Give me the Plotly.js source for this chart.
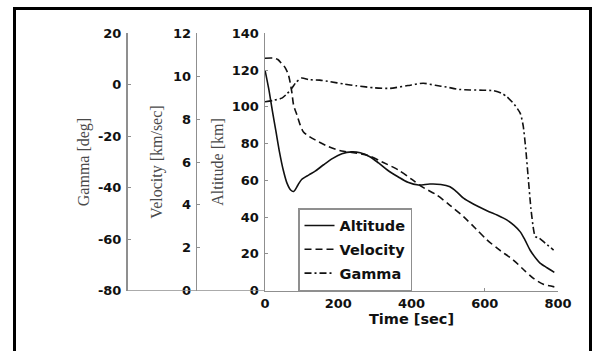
<!DOCTYPE html>
<html>
<head>
<meta charset="utf-8">
<script src="https://cdn.plot.ly/plotly-3.0.1.min.js"></script>
<style>
  html, body { margin: 0; padding: 0; background: #ffffff; overflow: hidden; }
  #chart { width: 594px; height: 351px; }
</style>
</head>
<body>
<div id="chart"></div>
<script>
// Re-entry trajectory: altitude, velocity and flight-path angle versus time
const altTime = [0, 10, 20, 30, 40, 50, 60, 70, 78, 90, 100, 120, 137, 160, 185, 210, 237, 260, 285, 310, 335, 363, 390, 419, 450, 480, 505, 525, 542, 570, 606, 635, 660, 680, 697, 710, 724, 740, 751, 770, 790];
const altitude = [120, 110, 98, 86.5, 75, 65.5, 58.5, 54.8, 54, 57.5, 60.5, 63, 65, 68.5, 72, 74.5, 75.5, 75, 73, 69.5, 65.5, 62, 59, 57.5, 58, 57.8, 56.5, 53.5, 50.3, 47, 43.5, 41, 38.5, 35.5, 32, 27.5, 22, 17.5, 15, 12.5, 10];

const velTime = [0, 25, 35, 45, 55, 64, 73, 78, 87, 96, 105, 120, 137, 173, 209, 237, 282, 320, 364, 400, 428, 469, 505, 542, 575, 606, 640, 678, 705, 733, 760, 790];
const velocity = [10.84, 10.84, 10.78, 10.6, 10.4, 10.06, 9.28, 8.66, 8.2, 7.73, 7.4, 7.2, 7.03, 6.72, 6.51, 6.45, 6.3, 6.0, 5.63, 5.2, 4.85, 4.46, 3.98, 3.45, 2.9, 2.37, 1.9, 1.43, 1.0, 0.57, 0.3, 0.18];

const gamTime = [0, 25, 46, 60, 73, 85, 100, 120, 150, 178, 215, 250, 300, 341, 390, 432, 465, 496, 530, 560, 595, 624, 645, 660, 680, 697, 705, 712, 718, 726, 733, 738, 748, 765, 788];
const gamma = [-6.6, -6.0, -5.2, -3.5, -1.4, 1.0, 2.6, 2.0, 1.8, 1.2, 0.3, -0.4, -1.2, -1.4, -0.3, 0.6, -0.2, -0.9, -1.8, -2.0, -2.1, -2.3, -3.2, -4.6, -7.5, -11.1, -16, -25, -35, -48, -56, -59, -59.5, -61.5, -64.2];

const seriesNames = ['Altitude', 'Velocity', 'Gamma'];
const timeTicks = [0, 200, 400, 600, 800];
const altTicks = [0, 20, 40, 60, 80, 100, 120, 140];
const velTicks = [0, 2, 4, 6, 8, 10, 12];
const gamTicks = [-80, -60, -40, -20, 0, 20];
const gamTickText = ['-80', '-60', '-40', '-20', '0', '20'];

const W = 594, H = 351;
const px = v => v / W;
const py = v => 1 - v / H;

const axisGray = '#8f8f8f';
const tickFont = { family: 'DejaVu Sans', size: 13, weight: 'bold', color: '#111111' };
const titleFont = { family: 'Liberation Serif', size: 16, color: '#4a4a4a' };

const traces = [
  { x: altTime, y: altitude, name: seriesNames[0], yaxis: 'y', legendgroup: 'a',
    mode: 'lines', line: { color: '#111111', width: 1.6, shape: 'spline', smoothing: 0.8 } },
  { x: velTime, y: velocity, name: seriesNames[1], yaxis: 'y2', legendgroup: 'b',
    mode: 'lines', line: { color: '#111111', width: 1.6, dash: '7px,4px', shape: 'spline', smoothing: 0.8 } },
  { x: gamTime, y: gamma, name: seriesNames[2], yaxis: 'y3', legendgroup: 'c',
    mode: 'lines', line: { color: '#111111', width: 1.6, dash: '7px,3px,2px,3px', shape: 'spline', smoothing: 0.6 } }
];

const yCommon = {
  showgrid: false, zeroline: false, showline: true, linecolor: axisGray, linewidth: 1.5,
  ticks: 'inside', ticklen: 3, tickcolor: axisGray, tickwidth: 1,
  tickfont: tickFont, ticklabelstandoff: 2
};

const layout = {
  width: W, height: H,
  margin: { l: 0, r: 0, t: 0, b: 0 },
  paper_bgcolor: '#ffffff', plot_bgcolor: 'rgba(0,0,0,0)',
  showlegend: true,
  xaxis: {
    domain: [px(265), px(558)], range: [0, 800], tickvals: timeTicks,
    showgrid: false, zeroline: false, showline: true, linecolor: axisGray, linewidth: 1.5,
    ticks: 'inside', ticklen: 3, tickcolor: axisGray, tickfont: tickFont,
    title: { text: 'Time [sec]', font: { family: 'DejaVu Sans', size: 14.5, weight: 'bold', color: '#111111' }, standoff: 4 },
    anchor: 'y'
  },
  yaxis: Object.assign({}, yCommon, {
    domain: [py(290.7), py(33.3)], range: [0, 140], tickvals: altTicks,
    anchor: 'x',
    title: { text: 'Altitude [km]', font: titleFont, standoff: 4 }
  }),
  yaxis2: Object.assign({}, yCommon, {
    overlaying: 'y', anchor: 'free', position: px(195.7), side: 'left',
    range: [0, 12], tickvals: velTicks,
    title: { text: 'Velocity [km/sec]', font: titleFont, standoff: 5 }
  }),
  yaxis3: Object.assign({}, yCommon, {
    overlaying: 'y', anchor: 'free', position: px(126), side: 'left',
    range: [-80, 20], tickvals: gamTicks, ticktext: gamTickText,
    title: { text: 'Gamma [deg]', font: titleFont, standoff: 3 }
  }),
  legend: {
    x: px(298), y: py(208), xanchor: 'left', yanchor: 'top',
    bgcolor: '#ffffff', bordercolor: axisGray, borderwidth: 1.5,
    font: { family: 'DejaVu Sans', size: 14.5, weight: 'bold', color: '#111111' },
    tracegroupgap: 2, itemwidth: 30
  },
  shapes: [
    // baseline shared by the stacked left axes
    { type: 'line', xref: 'paper', yref: 'y', x0: px(126), x1: px(265), y0: 0, y1: 0,
      line: { color: axisGray, width: 1.5 } },
    // figure frame
    { type: 'rect', xref: 'paper', yref: 'paper', x0: px(14.5), x1: px(590.5), y0: -0.2, y1: py(8.5),
      line: { color: '#000000', width: 3 }, fillcolor: 'rgba(0,0,0,0)' }
  ]
};

Plotly.newPlot('chart', traces, layout, { staticPlot: true, displayModeBar: false });
</script>
</body>
</html>
